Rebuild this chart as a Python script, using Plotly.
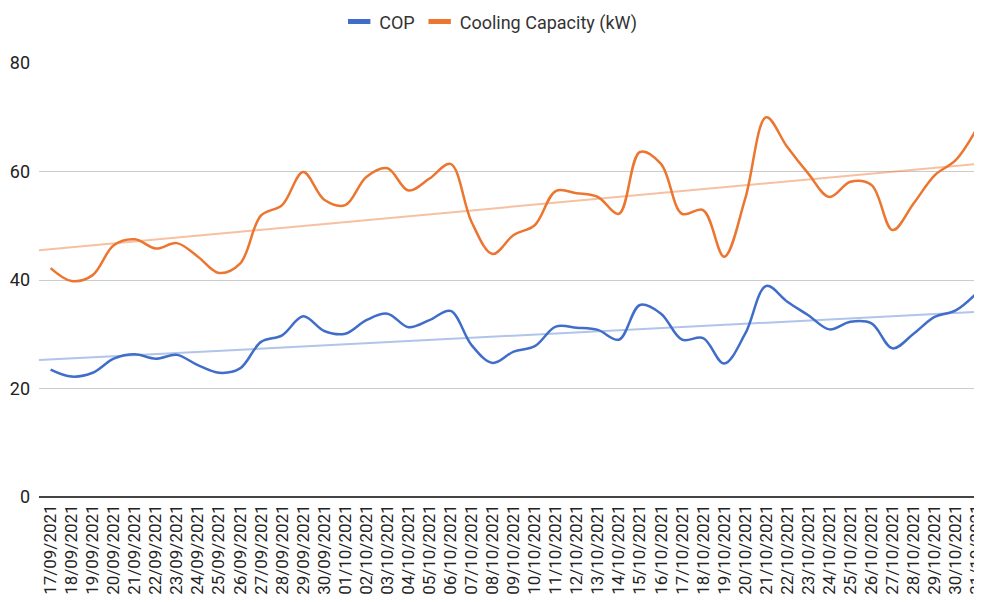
import numpy as np
import plotly.graph_objects as go

dates = ["17/09/2021", "18/09/2021", "19/09/2021", "20/09/2021", "21/09/2021", "22/09/2021",
         "23/09/2021", "24/09/2021", "25/09/2021", "26/09/2021", "27/09/2021", "28/09/2021",
         "29/09/2021", "30/09/2021", "01/10/2021", "02/10/2021", "03/10/2021", "04/10/2021",
         "05/10/2021", "06/10/2021", "07/10/2021", "08/10/2021", "09/10/2021", "10/10/2021",
         "11/10/2021", "12/10/2021", "13/10/2021", "14/10/2021", "15/10/2021", "16/10/2021",
         "17/10/2021", "18/10/2021", "19/10/2021", "20/10/2021", "21/10/2021", "22/10/2021",
         "23/10/2021", "24/10/2021", "25/10/2021", "26/10/2021", "27/10/2021", "28/10/2021",
         "29/10/2021", "30/10/2021", "31/10/2021"]

cop = [23.5, 22.2, 22.9, 25.5, 26.3, 25.5, 26.2, 24.3, 22.9, 23.7, 28.6, 29.8, 33.3, 30.6, 30.1,
       32.6, 33.8, 31.3, 32.6, 34.3, 28.0, 24.7, 26.8, 27.8, 31.4, 31.2, 30.8, 29.0, 35.4, 33.8,
       29.0, 29.3, 24.6, 30.1, 38.9, 36.0, 33.5, 30.9, 32.3, 32.0, 27.4, 30.1, 33.2, 34.4, 37.6]

cooling = [42.2, 39.8, 40.9, 46.4, 47.5, 45.8, 46.8, 44.3, 41.3, 43.0, 51.9, 53.8, 59.9, 54.8, 53.8,
           59.0, 60.6, 56.5, 58.7, 61.4, 50.7, 44.8, 48.3, 50.1, 56.4, 56.0, 55.3, 52.2, 63.6, 61.4,
           52.2, 52.9, 44.3, 55.0, 70.0, 64.5, 59.6, 55.3, 58.1, 57.5, 49.2, 54.1, 59.3, 62.1, 67.9]

BLUE = "#3f6dc9"
ORANGE = "#ec7530"

idx = np.arange(len(dates))
x_lo, x_hi = -0.55, len(dates) - 0.75

def trend(vals):
    m, b = np.polyfit(idx, vals, 1)
    xs = np.array([x_lo, x_hi])
    return xs, m * xs + b

fig = go.Figure()

tx, ty = trend(cop)
fig.add_trace(go.Scatter(x=tx, y=ty, mode="lines", line=dict(color=BLUE, width=2),
                         opacity=0.4, showlegend=False, hoverinfo="skip"))
tx, ty = trend(cooling)
fig.add_trace(go.Scatter(x=tx, y=ty, mode="lines", line=dict(color=ORANGE, width=2),
                         opacity=0.45, showlegend=False, hoverinfo="skip"))

fig.add_trace(go.Scatter(x=idx, y=cop, mode="lines", name="COP", showlegend=False,
                         line=dict(color=BLUE, width=2.5, shape="spline", smoothing=1.0)))
fig.add_trace(go.Scatter(x=idx, y=cooling, mode="lines", name="Cooling Capacity (kW)",
                         showlegend=False,
                         line=dict(color=ORANGE, width=2.5, shape="spline", smoothing=1.0)))

# legend-only entries with short thick bar symbols
for name, col in [("COP", BLUE), ("Cooling Capacity (kW)", ORANGE)]:
    fig.add_trace(go.Scatter(x=[None], y=[None], mode="markers", name=name,
                             marker=dict(symbol="line-ew", size=16, color=col,
                                         line=dict(color=col, width=5))))

fig.update_layout(
    width=982, height=602,
    margin=dict(l=31, r=8, t=55, b=113),
    paper_bgcolor="white", plot_bgcolor="white",
    font=dict(family="Roboto, Arial, sans-serif", size=13, color="#222"),
    legend=dict(orientation="h", x=0.479, xanchor="center", y=0.977, yanchor="middle",
                yref="container", font=dict(size=18, color="#333"),
                itemwidth=30, tracegroupgap=0),
    xaxis=dict(range=[x_lo, x_hi], tickmode="array", tickvals=list(idx), ticktext=dates,
               tickangle=-90, showgrid=False, zeroline=False, showline=False,
               tickfont=dict(size=17, color="#222"), ticks="", automargin=False,
               ticklabeloverflow="allow", ticklabelstandoff=3),
    yaxis=dict(range=[0, 80], tickvals=[0, 20, 40, 60, 80], showgrid=True,
               gridcolor="#cccccc", gridwidth=1, zeroline=True, zerolinecolor="#444",
               zerolinewidth=1.5, tickfont=dict(size=18, color="#222"), ticks="",
               automargin=False, ticklabelstandoff=8),
)

fig.write_html("out.html")
